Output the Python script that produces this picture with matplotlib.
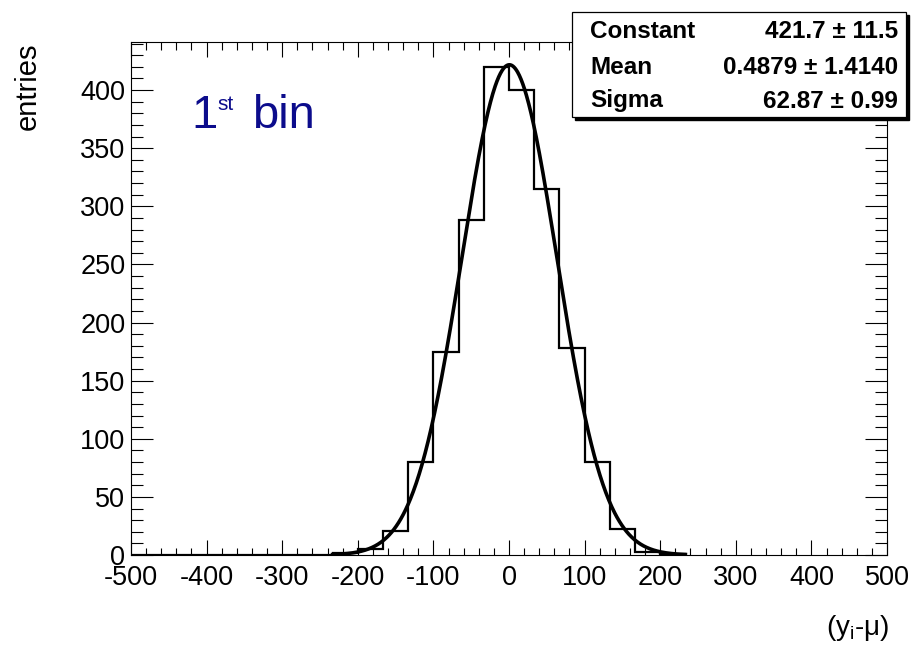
import numpy as np
import matplotlib
matplotlib.use("Agg")
import matplotlib.pyplot as plt
from matplotlib.patches import Rectangle
from matplotlib.ticker import MultipleLocator

plt.rcParams['font.family'] = ['Liberation Sans', 'DejaVu Sans']
plt.rcParams['mathtext.fontset'] = 'custom'
plt.rcParams['mathtext.rm'] = 'Liberation Sans'
plt.rcParams['mathtext.it'] = 'Liberation Sans:italic'
plt.rcParams['mathtext.bf'] = 'Liberation Sans:bold'
plt.rcParams['axes.unicode_minus'] = False

# ---- data ----
bin_lo, bin_hi, n_bins = -500.0, 500.0, 30
counts = [0, 0, 0, 0, 0, 0, 0, 0, 2, 5, 21, 80, 175, 288, 420,
          400, 315, 178, 80, 22, 3, 1, 0, 0, 0, 0, 0, 0, 0, 0]
fit_constant, fit_mean, fit_sigma = 421.7, 0.4879, 62.87
stat_names = ["Constant", "Mean", "Sigma"]
stat_values = ["421.7 \u00b1 11.5", "0.4879 \u00b1 1.4140", "62.87 \u00b1 0.99"]
fit_range = (-233.3, 233.3)

W, H = 916, 647
fig = plt.figure(figsize=(W / 100, H / 100), dpi=100)
ax = fig.add_axes([131 / W, 1 - 555 / H, (887 - 131) / W, (555 - 42) / H])

edges = np.linspace(bin_lo, bin_hi, n_bins + 1)
counts_arr = np.array(counts, dtype=float)
last = np.nonzero(counts_arr)[0].max()
ax.stairs(counts_arr[:last + 1], edges[:last + 2], color='black', linewidth=1.6,
          baseline=0, zorder=3)

xf = np.linspace(fit_range[0], fit_range[1], 600)
yf = fit_constant * np.exp(-0.5 * ((xf - fit_mean) / fit_sigma) ** 2)
ax.plot(xf, yf, color='black', linewidth=2.6, zorder=4)

ax.set_xlim(bin_lo, bin_hi)
ax.set_ylim(0, 441.3)
ax.xaxis.set_major_locator(MultipleLocator(100))
ax.xaxis.set_minor_locator(MultipleLocator(20))
ax.yaxis.set_major_locator(MultipleLocator(50))
ax.yaxis.set_minor_locator(MultipleLocator(10))
ax.tick_params(axis='both', which='both', direction='in', top=True, right=True,
               width=0.8, colors='black', labelsize=19.5)
ax.tick_params(axis='x', which='major', length=10.5, pad=7)
ax.tick_params(axis='x', which='minor', length=5.4)
ax.tick_params(axis='y', which='major', length=15.5, pad=4)
ax.tick_params(axis='y', which='minor', length=8.4)
for s in ax.spines.values():
    s.set_linewidth(0.8)

fig.text(28 / W, 1 - 42 / H, "entries", rotation=90, ha='center', va='top',
         fontsize=21)
fig.text(889 / W, 1 - 628 / H, "(y$_\\mathregular{i}$-\u03bc)", ha='right',
         va='center', fontsize=20)

navy = '#0c0c8c'
fig.text(191 / W, 1 - 128 / H, "1", ha='left', va='baseline', fontsize=34,
         color=navy)
fig.text(217 / W, 1 - 110 / H, "st", ha='left', va='baseline', fontsize=15,
         color=navy)
fig.text(252 / W, 1 - 128 / H, "bin", ha='left', va='baseline', fontsize=34,
         color=navy)

# stats box
x0, x1 = 572 / W, 906 / W
y0, y1 = 1 - 117 / H, 1 - 12 / H
fig.patches.append(Rectangle((x0 + 2.5 / W, y0 - 2.5 / H), x1 - x0, y1 - y0,
                             transform=fig.transFigure, facecolor='black',
                             edgecolor='black', zorder=5))
fig.patches.append(Rectangle((x0, y0), x1 - x0, y1 - y0, transform=fig.transFigure,
                             facecolor='white', edgecolor='black', linewidth=0.9,
                             zorder=6))
row_y = [31, 67, 101]
for name, val, ry in zip(stat_names, stat_values, row_y):
    fig.text(590 / W, 1 - ry / H, name, ha='left', va='center', fontsize=17.5,
             fontweight='bold', zorder=7)
    fig.text(898 / W, 1 - ry / H, val, ha='right', va='center', fontsize=17.5,
             fontweight='bold', zorder=7)

fig.savefig("out.png", dpi=100)
